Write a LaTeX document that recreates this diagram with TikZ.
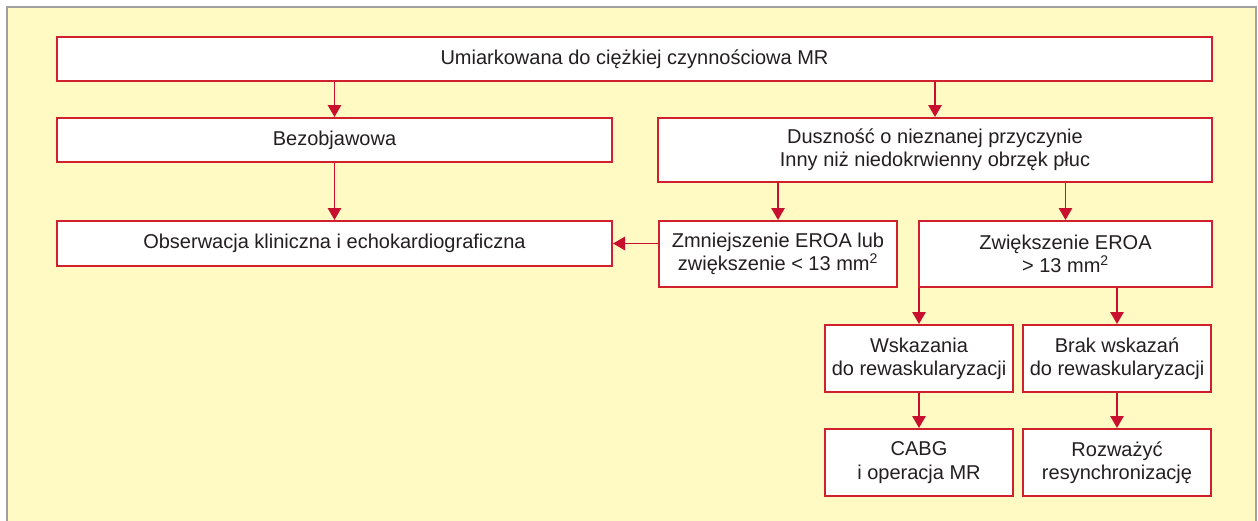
\documentclass[tikz,border=0pt]{standalone}
\usepackage{fontspec}
\setmainfont{Liberation Sans}
\usetikzlibrary{arrows.meta}
\definecolor{bgyellow}{HTML}{FFF9C4}
\definecolor{frgray}{HTML}{A0A0A0}
\definecolor{boxred}{HTML}{D0202E}
\definecolor{arrred}{HTML}{C8102E}
\definecolor{txt}{HTML}{231F20}
\tikzset{
  bx/.style={draw=boxred, line width=1.5pt, fill=white, inner sep=0pt, align=center,
    font=\fontsize{15}{17.5}\selectfont, text=txt},
  arr/.style={draw=arrred, line width=1.4pt, -{Triangle[length=9pt,width=10pt]}}
}
\newcommand{\bxat}[6]{% name, x1, y1, x2, y2, text
  \node[bx, minimum width={(#4-#2)*0.75pt}, minimum height={(#5-#3)*0.75pt}]
    (#1) at ({(#2+#4)/2},{(#3+#5)/2}) {#6};}
\begin{document}
\begin{tikzpicture}[x=0.75pt,y=-0.75pt]
\useasboundingbox (0,0) rectangle (1258,521);
\fill[bgyellow] (6,6) rectangle (1256,521);
\draw[frgray, line width=1.5pt] (6.5,521) -- (6.5,6.5) -- (1255.5,6.5) -- (1255.5,521);
\bxat{top}{57}{37}{1212}{81}{Umiarkowana do ciężkiej czynnościowa MR}
\bxat{bez}{57}{118}{612}{162}{Bezobjawowa}
\bxat{dus}{658}{118}{1212}{182}{Duszność o nieznanej przyczynie\\Inny niż niedokrwienny obrzęk płuc}
\bxat{obs}{57}{221}{612}{266}{Obserwacja kliniczna i echokardiograficzna}
\bxat{zmn}{659}{221}{897}{287}{Zmniejszenie EROA lub\\zwiększenie < 13 mm\textsuperscript{2}}
\bxat{zwi}{919}{221}{1212}{287}{Zwiększenie EROA\\> 13 mm\textsuperscript{2}}
\bxat{wsk}{825}{325}{1013}{392}{Wskazania\\do rewaskularyzacji}
\bxat{brak}{1023}{325}{1211}{392}{Brak wskazań\\do rewaskularyzacji}
\bxat{cabg}{825}{429}{1013}{496}{CABG\\i operacja MR}
\bxat{roz}{1023}{429}{1211}{496}{Rozważyć\\resynchronizację}
\draw[arr] (top.south -| bez.north) -- (bez.north);
\draw[arr] (top.south -| dus.north) -- (dus.north);
\draw[arr] (bez.south) -- (obs.north);
\draw[arr] (dus.south -| zmn.north) -- (zmn.north);
\draw[arr] (dus.south -| zwi.north) -- (zwi.north);
\draw[arr] (zmn.west |- obs.east) -- (obs.east);
\draw[arr] (zwi.south -| wsk.north) -- (wsk.north);
\draw[arr] (zwi.south -| brak.north) -- (brak.north);
\draw[arr] (wsk.south) -- (cabg.north);
\draw[arr] (brak.south) -- (roz.north);
\end{tikzpicture}
\end{document}
